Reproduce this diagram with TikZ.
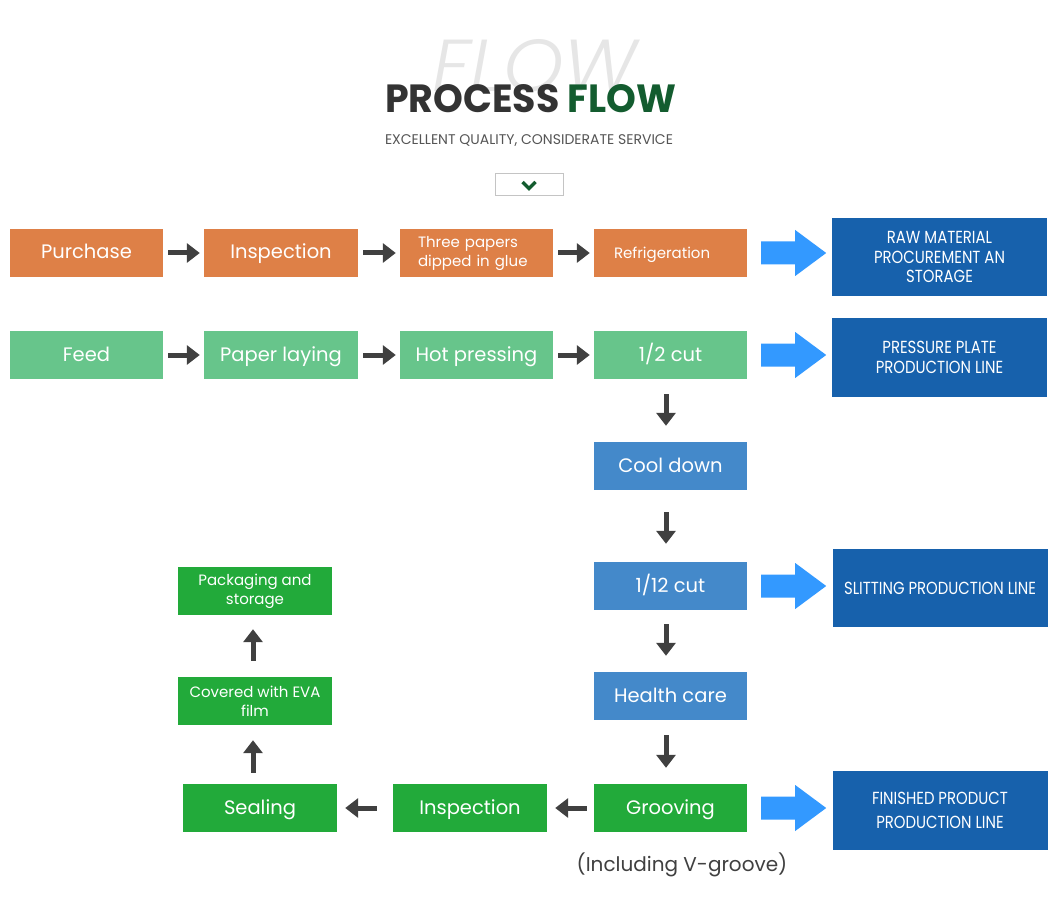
\documentclass[tikz,border=0pt]{standalone}
\usepackage{fontspec}
\setmainfont{Poppins}
\newfontfamily\condfont{Poppins}[FakeStretch=0.85]
\newfontfamily\ghostfont{Poppins Light Italic}
\usetikzlibrary{arrows.meta,calc}
\definecolor{corange}{HTML}{DE8047}
\definecolor{clgreen}{HTML}{67C58B}
\definecolor{cmblue}{HTML}{4489CA}
\definecolor{cdblue}{HTML}{1761AC}
\definecolor{cgreen}{HTML}{22AA3A}
\definecolor{cbarrow}{HTML}{3399FF}
\definecolor{cdark}{HTML}{404040}
\definecolor{ctitle}{HTML}{333333}
\definecolor{ctgreen}{HTML}{135C2F}
\definecolor{cghost}{HTML}{E6E6E6}
\definecolor{csub}{HTML}{555555}
\definecolor{cboxline}{HTML}{C4C4C4}
\newcommand\bluearrow[1]{\fill[cbarrow] ($(#1.east)+(14,-11.5)$) -- ++(34,0) -- ++(0,-11.5) -- ++(31,23) -- ++(-31,23) -- ++(0,-11.5) -- ++(-34,0) -- cycle;}
\begin{document}
\begin{tikzpicture}[x=1pt,y=-1pt,
  box/.style={inner sep=0pt, minimum width=153pt, minimum height=48pt, text=white, align=center, font=\fontsize{19.5pt}{22pt}\selectfont},
  one/.style={text height=16pt, text depth=4pt},
  sbox/.style={box, font=\fontsize{15pt}{19pt}\selectfont},
  bigbox/.style={inner sep=0pt, minimum width=215pt, minimum height=78pt, text=white, align=center, fill=cdblue, font=\condfont\fontsize{17.5pt}{19.5pt}\selectfont},
  darr/.style={draw=cdark, line width=5pt, -{Triangle[width=19pt,length=13pt]}}
]
\useasboundingbox (0,0) rectangle (1060,909);
\fill[white] (0,0) rectangle (1060,909);

% title
\node[text=cghost, inner sep=0pt] (ghost) at (535,66) {\resizebox{204pt}{52pt}{\ghostfont FLOW}};
\node[text=ctitle, inner sep=0pt] (title) at (530.5,99) {\resizebox{291pt}{28pt}{\bfseries PROCESS \textcolor{ctgreen}{FLOW}}};
\node[text=csub, inner sep=0pt] (sub) at (529,140.5) {\resizebox{288pt}{!}{EXCELLENT QUALITY, CONSIDERATE SERVICE}};
\node[draw=cboxline, line width=1pt, minimum width=68pt, minimum height=22pt, inner sep=0pt] (chev) at (529,185) {};
\draw[ctgreen, line width=3.2pt] ($(chev)+(-6.5,-3)$) -- ($(chev)+(0,3.5)$) -- ($(chev)+(6.5,-3)$);

% row 1
\node[box, one, fill=corange] (purchase) at (86.5,253) {Purchase};
\node[box, one, fill=corange, minimum width=154pt] (insp1) at (281,253) {Inspection};
\node[sbox, fill=corange, text width=117pt, inner xsep=18pt, align=left] (three) at (476.5,253) {Three papers\\dipped in glue};
\node[sbox, one, fill=corange, text width=113pt, inner xsep=20pt, align=left] (refrig) at (670.5,253) {Refrigeration};
\node[bigbox] (raw) at (939.5,257) {RAW MATERIAL\\PROCUREMENT AN\\STORAGE};

% row 2
\node[box, one, fill=clgreen] (feed) at (86.5,355) {Feed};
\node[box, one, fill=clgreen, minimum width=154pt] (paper) at (281,355) {Paper laying};
\node[box, one, fill=clgreen] (hot) at (476.5,355) {Hot pressing};
\node[box, one, fill=clgreen] (half) at (670.5,355) {1/2 cut};
\node[bigbox, minimum height=79pt, font=\condfont\fontsize{17.5pt}{20pt}\selectfont] (pressure) at (939.5,357.5) {PRESSURE PLATE\\PRODUCTION LINE};

% column
\node[box, one, fill=cmblue] (cool) at (670.5,466) {Cool down};
\node[box, one, fill=cmblue] (cut12) at (670.5,586) {1/12 cut};
\node[bigbox] (slit) at (940,588) {SLITTING PRODUCTION LINE};
\node[box, one, fill=cmblue] (health) at (670.5,696) {Health care};
\node[box, one, fill=cgreen] (groov) at (670.5,808) {Grooving};
\node[bigbox, minimum height=79pt, font=\condfont\fontsize{17.5pt}{24pt}\selectfont] (finished) at (940,810.5) {FINISHED PRODUCT\\PRODUCTION LINE};
\node[text=cdark, inner sep=0pt, font=\fontsize{20pt}{22pt}\selectfont] (vgroove) at (682,865) {(Including V-groove)};

% bottom left
\node[box, one, fill=cgreen, minimum width=154pt] (insp2) at (470,808) {Inspection};
\node[box, one, fill=cgreen, minimum width=154pt] (seal) at (260,808) {Sealing};
\node[sbox, fill=cgreen, minimum width=154pt] (covered) at (255,701) {Covered with EVA\\film};
\node[sbox, fill=cgreen, minimum width=154pt] (pack) at (255,591) {Packaging and\\storage};

% dark arrows
\draw[darr, shorten <=5pt, shorten >=4pt] (purchase) -- (insp1);
\draw[darr, shorten <=5pt, shorten >=4pt] (insp1) -- (three);
\draw[darr, shorten <=5pt, shorten >=4pt] (three) -- (refrig);
\draw[darr, shorten <=5pt, shorten >=4pt] (feed) -- (paper);
\draw[darr, shorten <=5pt, shorten >=4pt] (paper) -- (hot);
\draw[darr, shorten <=5pt, shorten >=4pt] (hot) -- (half);
\draw[darr, shorten <=15pt, shorten >=16pt] ($(half.south)+(-4.5,0)$) -- ($(cool.north)+(-4.5,0)$);
\draw[darr, shorten <=22pt, shorten >=18pt] ($(cool.south)+(-4.5,0)$) -- ($(cut12.north)+(-4.5,0)$);
\draw[darr, shorten <=14pt, shorten >=16pt] ($(cut12.south)+(-4.5,0)$) -- ($(health.north)+(-4.5,0)$);
\draw[darr, shorten <=15pt, shorten >=16pt] ($(health.south)+(-4.5,0)$) -- ($(groov.north)+(-4.5,0)$);
\draw[darr, shorten <=7pt, shorten >=8pt] (groov) -- (insp2);
\draw[darr, shorten <=16pt, shorten >=8pt] (insp2) -- (seal);
\draw[darr, shorten <=11pt, shorten >=15pt] ($(seal.north -| covered)+(-2,0)$) -- ($(covered.south)+(-2,0)$);
\draw[darr, shorten <=16pt, shorten >=14pt] ($(covered.north)+(-2,0)$) -- ($(pack.south)+(-2,0)$);

% blue arrows
\bluearrow{refrig}
\bluearrow{half}
\bluearrow{cut12}
\bluearrow{groov}
\end{tikzpicture}
\end{document}
